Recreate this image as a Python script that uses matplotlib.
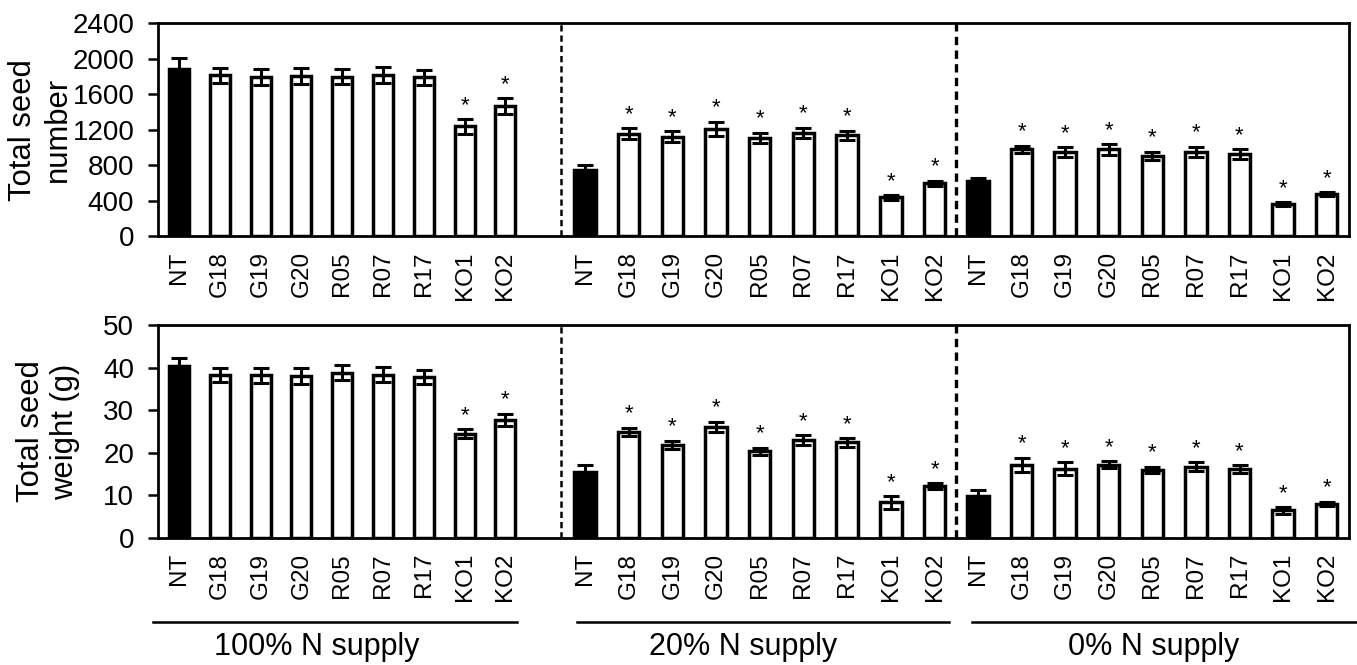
import numpy as np
import matplotlib
matplotlib.use('Agg')
import matplotlib.pyplot as plt
from matplotlib.lines import Line2D

plt.rcParams['font.family'] = ['Liberation Sans', 'DejaVu Sans']

lines = ['NT', 'G18', 'G19', 'G20', 'R05', 'R07', 'R17', 'KO1', 'KO2']
groups = ['100% N supply', '20% N supply', '0% N supply']

# seed number (mean, error) per N supply level
num_100 = [1884, 1812, 1790, 1805, 1797, 1820, 1790, 1237, 1466]
num_100_err = [130, 88, 90, 90, 87, 90, 88, 82, 86]
num_20 = [748, 1154, 1120, 1207, 1105, 1165, 1135, 436, 598]
num_20_err = [56, 62, 62, 80, 58, 57, 55, 26, 28]
num_0 = [624, 978, 947, 978, 902, 947, 925, 361, 470]
num_0_err = [27, 41, 55, 60, 47, 58, 53, 20, 22]

# seed weight (g)
wt_100 = [40.4, 38.2, 38.2, 38.0, 38.8, 38.3, 37.8, 24.5, 27.7]
wt_100_err = [1.8, 1.7, 1.8, 1.9, 1.8, 1.8, 1.6, 1.05, 1.4]
wt_20 = [15.5, 24.9, 21.9, 26.0, 20.3, 23.0, 22.4, 8.3, 12.1]
wt_20_err = [1.7, 0.9, 0.95, 1.25, 0.9, 1.1, 1.0, 1.5, 0.75]
wt_0 = [9.9, 17.1, 16.2, 17.2, 15.9, 16.7, 16.1, 6.4, 7.9]
wt_0_err = [1.25, 1.65, 1.55, 0.8, 0.8, 1.0, 0.9, 0.8, 0.5]

# significance flags (1 = asterisk)
sig_100 = [0, 0, 0, 0, 0, 0, 0, 1, 1]
sig_20 = [0, 1, 1, 1, 1, 1, 1, 1, 1]
sig_0 = [0, 1, 1, 1, 1, 1, 1, 1, 1]

# layout in pixel units across the axes width
starts = [21, 427, 820]
steps = [40.8, 43.7, 43.6]
widths = [20, 21.5, 21.5]
seps = [403, 797.7]
XMAX = 1191.5


def panel(ax, vals, errs, sigs, ymax, ystep, ylabel, label_x):
    n = len(lines)
    for g in range(3):
        x = starts[g] + steps[g] * np.arange(n)
        colors = ['black'] + ['white'] * (n - 1)
        ax.bar(x, vals[g], width=widths[g], color=colors, edgecolor='black',
               linewidth=2.5, zorder=2)
        ax.errorbar(x, vals[g], yerr=errs[g], fmt='none', ecolor='black',
                    elinewidth=2.2, capsize=6, capthick=2.2, zorder=3)
        for xi, v, e, s in zip(x, vals[g], errs[g], sigs[g]):
            if s:
                ax.annotate('*', (xi, v + e), xytext=(0, 6), textcoords='offset points',
                            ha='center', va='baseline', fontsize=16)
    for i, sx in enumerate(seps):
        ax.axvline(sx, color='black', ls=(0, (2.5, 1.6)), lw=1.8 if i == 0 else 2.4, zorder=1)
    ax.set_xlim(0, XMAX)
    ax.set_ylim(0, ymax)
    ax.set_yticks(np.arange(0, ymax + 1, ystep))
    allx = np.concatenate([starts[g] + steps[g] * np.arange(n) for g in range(3)])
    ax.set_xticks(allx)
    ax.set_xticklabels(lines * 3, rotation=90, fontsize=17.5)
    ax.tick_params(axis='x', length=0, pad=11)
    ax.tick_params(axis='y', length=7, width=1.8, labelsize=20, pad=10, direction='out')
    for sp in ax.spines.values():
        sp.set_linewidth(2)
    ax.text(label_x, 0.5, ylabel, transform=ax.transAxes, rotation=90, ha='center',
            va='center', fontsize=22.3, linespacing=1.2, multialignment='center')


f = plt.figure(figsize=(13.57, 6.65), dpi=100)
ax = f.add_axes([0.1164, 0.6451, 0.8780, 0.3198])
bx = f.add_axes([0.1164, 0.1914, 0.8780, 0.3198])

panel(ax, [num_100, num_20, num_0], [num_100_err, num_20_err, num_0_err],
      [sig_100, sig_20, sig_0], 2400, 400, 'Total seed\nnumber', -0.0984)
panel(bx, [wt_100, wt_20, wt_0], [wt_100_err, wt_20_err, wt_0_err],
      [sig_100, sig_20, sig_0], 50, 10, 'Total seed\nweight (g)', -0.0924)

# group brackets under the lower panel
W, H = 1357.0, 665.0
spans = [(152.7, 516.7), (577.3, 949), (971.7, 1356)]
text_x = [316.7, 743.3, 1154]
for (x0, x1), tx, name in zip(spans, text_x, groups):
    f.add_artist(Line2D([x0 / W, x1 / W], [1 - 622.3 / H] * 2, color='black', lw=1.8))
    f.text(tx / W, 1 - 646.7 / H, name, ha='center', va='center', fontsize=22)

f.savefig('out.png', dpi=100)
